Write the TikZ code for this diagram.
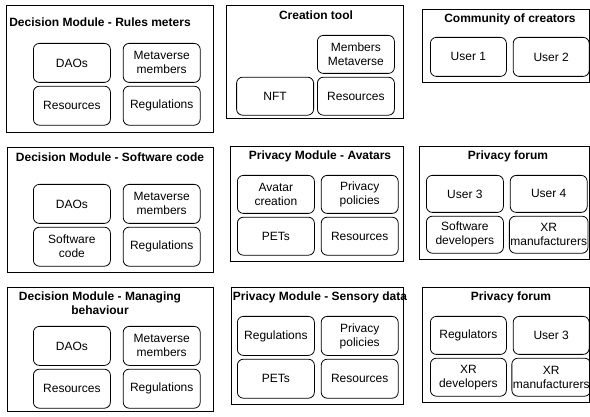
\documentclass[tikz,border=0pt]{standalone}
\usepackage{fontspec}
\setmainfont{Liberation Sans}
\usetikzlibrary{positioning}

\begin{document}
\begin{tikzpicture}[x=1pt, y=-1pt, line width=0.8pt,
  module/.style={draw, anchor=north west, inner sep=0pt},
  heading/.style={font=\fontsize{12}{14}\selectfont\bfseries, align=center, inner sep=0pt},
  item/.style={draw, rounded corners=6pt, anchor=north west, minimum width=77pt, minimum height=39pt, inner sep=1pt, align=center, font=\fontsize{12}{14}\selectfont}]
	\useasboundingbox (0,0) rectangle (590,417);
	% first row
	\node [module, minimum width=207pt, minimum height=127pt] (rules) at (6,5) {};
	\node [heading] (rulest) at (100,22) {Decision Module - Rules meters};
	\node [item] (rulesdao) at (33,43) {DAOs};
	\node [item, right=12pt of rulesdao] (rulesmem) {Metaverse\\members};
	\node [item, below=3pt of rulesdao] (rulesres) {Resources};
	\node [item, below=3pt of rulesmem] (rulesreg) {Regulations};
	\node [module, minimum width=177pt, minimum height=113pt] (creation) at (226,5) {};
	\node [heading] (creationt) at (316,15) {Creation tool};
	\node [item, minimum height=38pt] (creationmem) at (317,35) {Members\\Metaverse};
	\node [item, minimum height=38pt, below=3pt of creationmem] (creationres) {Resources};
	\node [item, minimum height=38pt, left=3pt of creationres] (creationnft) {NFT};
	\node [module, minimum width=167pt, minimum height=73pt] (community) at (422,9) {};
	\node [heading] (communityt) at (510,19) {Community of creators};
	\node [item, minimum width=76pt] (user1) at (430,37) {User 1};
	\node [item, minimum width=76pt, right=6pt of user1] (user2) {User 2};
	% second row
	\node [module, minimum width=206pt, minimum height=125pt] (software) at (7,147) {};
	\node [heading] (softwaret) at (110,157) {Decision Module - Software code};
	\node [item] (softwaredao) at (33,184) {DAOs};
	\node [item, right=12pt of softwaredao] (softwaremem) {Metaverse\\members};
	\node [item, below=3pt of softwaredao] (softwarecode) {Software\\code};
	\node [item, below=3pt of softwaremem] (softwarereg) {Regulations};
	\node [module, minimum width=173pt, minimum height=115pt] (avatars) at (230,146) {};
	\node [heading] (avatarst) at (320,156) {Privacy Module - Avatars};
	\node [item, minimum height=38pt] (avatarscre) at (237,175) {Avatar\\creation};
	\node [item, minimum height=38pt, right=6pt of avatarscre] (avatarspol) {Privacy\\policies};
	\node [item, minimum height=38pt, below=3pt of avatarscre] (avatarspet) {PETs};
	\node [item, minimum height=38pt, below=3pt of avatarspol] (avatarsres) {Resources};
	\node [module, minimum width=170pt, minimum height=113pt] (forum) at (419,146) {};
	\node [heading] (forumt) at (508,156) {Privacy forum};
	\node [item, minimum height=37pt] (forumuthree) at (426,175) {User 3};
	\node [item, minimum height=37pt, right=6pt of forumuthree] (forumufour) {User 4};
	\node [item, minimum height=37pt, below=3pt of forumuthree] (forumdev) {Software\\developers};
	\node [item, minimum height=37pt, below=3pt of forumufour] (forummanu) {XR\\manufacturers};
	% third row
	\node [module, minimum width=206pt, minimum height=124pt] (behaviour) at (7,287) {};
	\node [heading] (behaviourt) at (100,303) {Decision Module - Managing\\behaviour};
	\node [item] (behaviourdao) at (33,326) {DAOs};
	\node [item, right=12pt of behaviourdao] (behaviourmem) {Metaverse\\members};
	\node [item, below=3pt of behaviourdao] (behaviourres) {Resources};
	\node [item, below=3pt of behaviourmem] (behaviourreg) {Regulations};
	\node [module, minimum width=172pt, minimum height=117pt] (sensory) at (231,287) {};
	\node [heading] (sensoryt) at (320,297) {Privacy Module - Sensory data};
	\node [item] (sensoryreg) at (237,316) {Regulations};
	\node [item, right=6pt of sensoryreg] (sensorypol) {Privacy\\policies};
	\node [item, below=3pt of sensoryreg] (sensorypet) {PETs};
	\node [item, below=3pt of sensorypol] (sensoryres) {Resources};
	\node [module, minimum width=167pt, minimum height=115pt] (forumtwo) at (422,287) {};
	\node [heading] (forumtwot) at (511,297) {Privacy forum};
	\node [item, minimum width=76pt, minimum height=38pt] (forumtworeg) at (430,316) {Regulators};
	\node [item, minimum width=76pt, minimum height=38pt, right=6pt of forumtworeg] (forumtwouser) {User 3};
	\node [item, minimum width=76pt, minimum height=38pt, below=3pt of forumtworeg] (forumtwodev) {XR\\developers};
	\node [item, minimum width=76pt, minimum height=38pt, below=3pt of forumtwouser] (forumtwomanu) {XR\\manufacturers};
\end{tikzpicture}
\end{document}
